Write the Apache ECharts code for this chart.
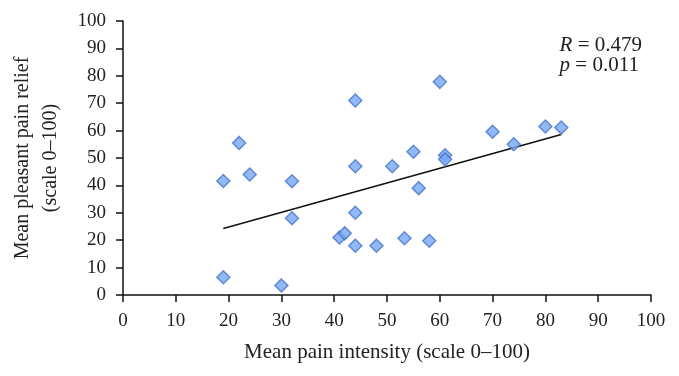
<!DOCTYPE html>
<html>
<head>
<meta charset="utf-8">
<script src="https://cdn.jsdelivr.net/npm/echarts@6/dist/echarts.min.js"></script>
<style>
  html, body { margin: 0; padding: 0; background: #fff; }
  #chart { width: 679px; height: 376px; }
</style>
</head>
<body>
<div id="chart"></div>
<script>
// Mean pain intensity (x) vs mean pleasant pain relief (y)
const painIntensity = [19, 22, 24, 32, 32, 44, 51, 44, 41, 42, 44, 48, 19, 30, 55, 61, 61, 56, 53.3, 58, 74, 60, 70, 80, 83, 44];
const painRelief = [41.6, 55.5, 44, 41.5, 28, 47, 47, 30, 21, 22.5, 18, 18, 6.5, 3.5, 52.3, 51, 49.5, 39, 20.7, 19.8, 55, 77.8, 59.6, 61.5, 61.1, 71];
const trendX = [19, 83];
const trendY = [24.3, 58.6];

const serif = '"Liberation Serif", "DejaVu Serif", serif';

const points = painIntensity.map((x, i) => [x, painRelief[i]]);
const trend = trendX.map((x, i) => [x, trendY[i]]);

const myChart = echarts.init(document.getElementById('chart'));
const option = {
  backgroundColor: '#fff',
  animation: false,
  grid: {
    left: 123,
    right: 28,
    top: 21,
    bottom: 81
  },
  xAxis: {
    type: 'value',
    min: 0,
    max: 100,
    interval: 10,
    name: 'Mean pain intensity (scale 0\u2013100)',
    nameLocation: 'middle',
    nameGap: 47,
    nameTextStyle: { fontFamily: serif, fontSize: 21, color: '#222' },
    axisLine: { lineStyle: { color: '#111', width: 1.5 } },
    axisTick: { show: true, length: 7, lineStyle: { color: '#111', width: 1.5 } },
    axisLabel: { fontFamily: serif, fontSize: 19, color: '#222', margin: 17 },
    splitLine: { show: false }
  },
  yAxis: {
    type: 'value',
    min: 0,
    max: 100,
    interval: 10,
    name: 'Mean pleasant pain relief\n(scale 0\u2013100)',
    nameLocation: 'middle',
    nameGap: 58,
    nameTextStyle: { fontFamily: serif, fontSize: 20, color: '#222', lineHeight: 28 },
    axisLine: { show: true, lineStyle: { color: '#111', width: 1.5 } },
    axisTick: { show: true, length: 7, lineStyle: { color: '#111', width: 1.5 } },
    axisLabel: { fontFamily: serif, fontSize: 19, color: '#222', margin: 17 },
    splitLine: { show: false }
  },
  graphic: [{
    type: 'text',
    right: 37,
    top: 35,
    style: {
      text: '{i|R} = 0.479\n{i|p} = 0.011',
      fontFamily: serif,
      fontSize: 21,
      lineHeight: 20,
      fill: '#222',
      align: 'right',
      rich: {
        i: { fontFamily: serif, fontSize: 21, fontStyle: 'italic', fill: '#222' }
      }
    }
  }],
  series: [{
    type: 'scatter',
    data: points,
    symbol: 'diamond',
    symbolSize: 13,
    itemStyle: {
      color: '#75a8f2',
      borderColor: '#4a76c8',
      borderWidth: 1.5
    },
    z: 3
  }, {
    type: 'line',
    data: trend,
    showSymbol: false,
    symbol: 'none',
    lineStyle: { color: '#111', width: 1.5 },
    z: 2
  }]
};
myChart.setOption(option);
</script>
</body>
</html>
